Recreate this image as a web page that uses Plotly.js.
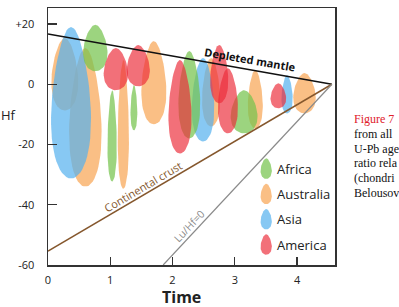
<!DOCTYPE html>
<html>
<head>
<meta charset="utf-8">
<script src="https://cdn.plot.ly/plotly-3.0.1.min.js"></script>
<style>
  html, body { margin: 0; padding: 0; background: #fff; overflow: hidden; }
  #chart { width: 399px; height: 307px; }
</style>
</head>
<body>
<div id="chart"></div>
<script>
// Hf isotope fields of zircon by continent.
// Each field: age centre (Ga), top and bottom of the εHf range, age spread (Ga).
const africaAge    = [0.76, 1.03, 1.38, 2.27, 3.15];
const africaTop    = [19.7, -2.0, -0.3, 11.0, -2.0];
const africaBottom = [4.3, -32.3, -15.3, -18.0, -16.3];
const africaWidth  = [0.39, 0.15, 0.11, 0.35, 0.43];

const australiaAge    = [0.27, 0.60, 1.21, 1.70, 2.62, 3.33, 4.12];
const australiaTop    = [15.3, 12.0, 8.0, 14.3, 8.7, 4.7, 3.7];
const australiaBottom = [-8.7, -34.0, -34.7, -13.3, -14.0, -14.7, -9.7];
const australiaWidth  = [0.43, 0.52, 0.18, 0.40, 0.29, 0.24, 0.36];

const asiaAge    = [0.37, 2.49, 3.84];
const asiaTop    = [19.0, 8.7, 3.0];
const asiaBottom = [-31.3, -19.0, -9.7];
const asiaWidth  = [0.64, 0.36, 0.18];

const americaAge    = [1.09, 1.45, 2.12, 2.75, 2.89, 3.70];
const americaTop    = [12.0, 13.0, 8.0, 13.0, 5.3, 0.3];
const americaBottom = [-2.0, -0.7, -23.0, -6.3, -16.3, -8.0];
const americaWidth  = [0.39, 0.37, 0.37, 0.29, 0.32, 0.25];

// Reference evolution lines (age Ga, εHf)
const mantleAge = [0, 4.56];
const mantleHf  = [16.7, 0];
const crustAge  = [0, 4.56];
const crustHf   = [-55.4, 0];
const luhfAge   = [1.85, 4.56];
const luhfHf    = [-60, 0];

const continentNames = ['Africa', 'Australia', 'Asia', 'America'];
const xTickVals = [0, 1, 2, 3, 4];
const yTickVals = [20, 0, -20, -40, -60];
const yTickText = ['+20', '0', '-20', '-40', '-60'];

const fills = {
  Africa:    'rgba(118,196,78,0.72)',
  Australia: 'rgba(248,166,86,0.72)',
  Asia:      'rgba(84,176,238,0.7)',
  America:   'rgba(236,44,58,0.68)'
};

// Egg-shaped outline, narrower at the top
function egg(cx, top, bottom, width) {
  const xs = [], ys = [];
  const cy = (top + bottom) / 2, hh = (top - bottom) / 2, hw = width / 2;
  const k = 0.25, norm = 1.025;
  for (let i = 0; i <= 64; i++) {
    const t = 2 * Math.PI * i / 64;
    const u = Math.cos(t), v = Math.sin(t);
    xs.push(cx + hw * v * (1 - k * u) / norm);
    ys.push(cy + hh * u);
  }
  return { x: xs, y: ys };
}

function fieldTraces(name, ages, tops, bottoms, widths) {
  return ages.map((a, i) => {
    const p = egg(a, tops[i], bottoms[i], widths[i]);
    return {
      type: 'scatter', mode: 'lines', x: p.x, y: p.y,
      fill: 'toself', fillcolor: fills[name],
      line: { width: 0, color: 'rgba(0,0,0,0)' },
      hoverinfo: 'skip', showlegend: false, name: name
    };
  });
}

const traces = [
  ...fieldTraces('Australia', australiaAge, australiaTop, australiaBottom, australiaWidth),
  ...fieldTraces('Asia', asiaAge, asiaTop, asiaBottom, asiaWidth),
  ...fieldTraces('Africa', africaAge, africaTop, africaBottom, africaWidth),
  ...fieldTraces('America', americaAge, americaTop, americaBottom, americaWidth),
  { type: 'scatter', mode: 'lines', x: mantleAge, y: mantleHf,
    line: { color: '#111', width: 1.5 }, showlegend: false, hoverinfo: 'skip' },
  { type: 'scatter', mode: 'lines', x: crustAge, y: crustHf,
    line: { color: '#85572d', width: 1.5 }, showlegend: false, hoverinfo: 'skip' },
  { type: 'scatter', mode: 'lines', x: luhfAge, y: luhfHf,
    line: { color: '#8a8a8a', width: 1.2 }, showlegend: false, hoverinfo: 'skip' }
];

// Legend: small egg swatches with labels inside the plot
const legendX = 3.505, legendY0 = -28, legendStep = -8.4;
const annotations = [];
continentNames.forEach((n, i) => {
  const y = legendY0 + i * legendStep;
  const p = egg(legendX, y + 3.4, y - 3.4, 0.18);
  traces.push({
    type: 'scatter', mode: 'lines', x: p.x, y: p.y, fill: 'toself',
    fillcolor: fills[n], line: { width: 0, color: 'rgba(0,0,0,0)' },
    showlegend: false, hoverinfo: 'skip'
  });
  annotations.push({
    x: legendX + 0.14, y: y, xref: 'x', yref: 'y', text: n, showarrow: false,
    xanchor: 'left', yanchor: 'middle',
    font: { family: 'Open Sans', size: 13, color: '#222' }
  });
});

annotations.push(
  { x: 3.25, y: 8.3, xref: 'x', yref: 'y', text: '<b>Depleted mantle</b>', showarrow: false,
    textangle: 9.8, font: { family: 'Open Sans', size: 11, color: '#111' } },
  { x: 1.53, y: -34, xref: 'x', yref: 'y', text: 'Continental crust', showarrow: false,
    textangle: -30.5, font: { family: 'Open Sans', size: 11, color: '#85572d' } },
  { x: 2.27, y: -47.2, xref: 'x', yref: 'y', text: 'Lu/Hf=0', showarrow: false,
    textangle: -46.6, font: { family: 'Open Sans', size: 10.5, color: '#8a8a8a' } },
  { x: 0, y: -10.3, xref: 'paper', yref: 'y', xshift: -40, text: 'Hf', showarrow: false,
    xanchor: 'center', font: { family: 'Open Sans', size: 13, color: '#222' } },
  { x: 0, y: 0, xref: 'paper', yref: 'paper', xshift: 133.5, yshift: -32, text: '<b>Time</b>',
    showarrow: false, xanchor: 'center', yanchor: 'middle',
    font: { family: 'Open Sans', size: 16, color: '#222' } }
);

// Caption beside the chart
const captionLines = ['Figure 7', 'from all', 'U-Pb age', 'ratio rela', '(chondri', 'Belousov'];
captionLines.forEach((t, i) => {
  annotations.push({
    x: 1, y: 1, xref: 'paper', yref: 'paper', xshift: 17, yshift: -(111 + i * 14.8),
    text: t, showarrow: false, xanchor: 'left', yanchor: 'middle',
    font: { family: 'Liberation Serif', size: 12, color: i === 0 ? '#e0202a' : '#111' }
  });
});

const layout = {
  width: 399, height: 307,
  margin: { l: 48, r: 64, t: 8, b: 42 },
  paper_bgcolor: '#fff', plot_bgcolor: '#fff',
  showlegend: false,
  xaxis: {
    range: [0, 4.61], tickvals: xTickVals, ticks: 'inside', ticklen: 8, tickwidth: 1.4,
    tickcolor: '#333', showline: true, mirror: true, linecolor: '#333', linewidth: 1.5,
    showgrid: false, zeroline: false, ticklabelstandoff: 4,
    tickfont: { family: 'Open Sans', size: 11, color: '#222' }
  },
  yaxis: {
    range: [-60, 25.3], tickvals: yTickVals, ticktext: yTickText, ticks: 'inside',
    ticklen: 9, tickwidth: 1.4, tickcolor: '#333', showline: true, mirror: true,
    linecolor: '#333', linewidth: 1.5, showgrid: false, zeroline: false,
    ticklabelstandoff: 10,
    tickfont: { family: 'Open Sans', size: 11, color: '#222' }
  },
  annotations: annotations
};

Plotly.newPlot('chart', traces, layout, { staticPlot: true, displayModeBar: false });
</script>
</body>
</html>
